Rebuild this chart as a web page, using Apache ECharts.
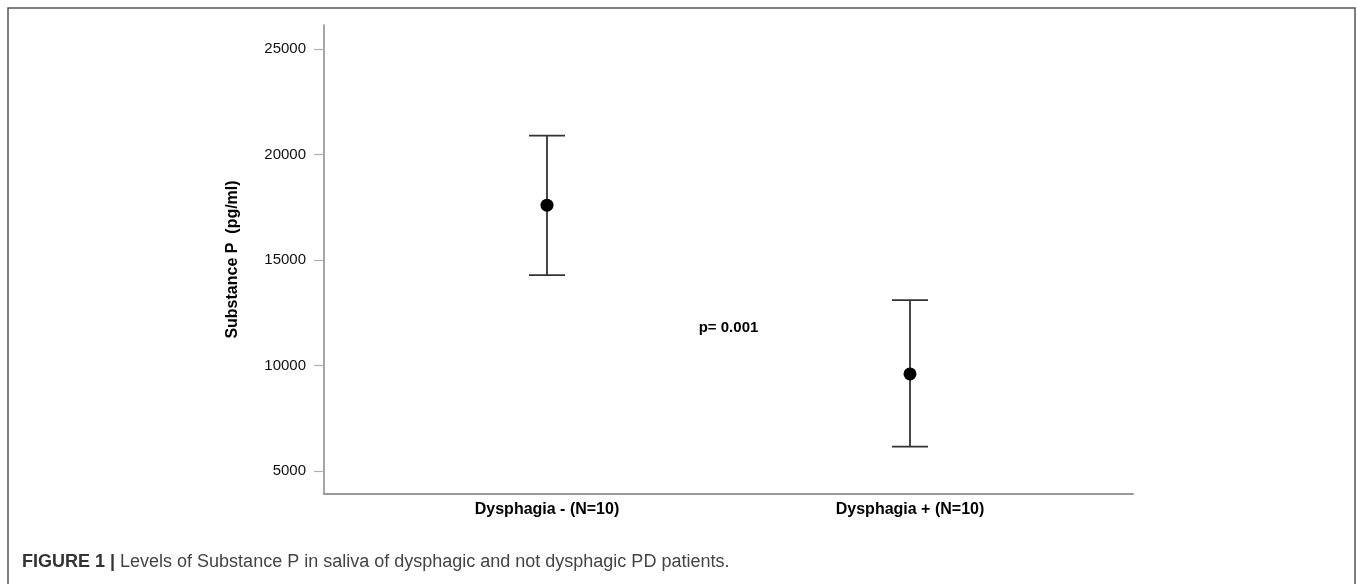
<!DOCTYPE html>
<html>
<head>
<meta charset="utf-8">
<script src="https://cdn.jsdelivr.net/npm/echarts@6/dist/echarts.min.js"></script>
<style>
  html, body { margin: 0; padding: 0; background: #fff; }
  #chart { width: 1357px; height: 584px; }
</style>
</head>
<body>
<div id="chart"></div>
<script>
  // groups on a numeric x position so the spacing matches the figure
  const groups = ['Dysphagia - (N=10)', 'Dysphagia + (N=10)']
  const groupX = [1, 2]
  const means = [17600, 9600]
  const lower = [14280, 6150]
  const upper = [20900, 13100]
  const yTicks = [5000, 10000, 15000, 20000, 25000]
  const pLabel = 'p= 0.001'
  const pPos = [1.5, 11760]

  const font = '"Liberation Sans", Arial, Helvetica, sans-serif'
  const chart = echarts.init(document.getElementById('chart'), null, { renderer: 'canvas' })

  const barData = groupX.map((x, i) => [x, means[i], lower[i], upper[i]])

  function renderBar(params, api) {
    const x = api.value(0)
    const mid = api.coord([x, api.value(1)])
    const lo = api.coord([x, api.value(2)])
    const hi = api.coord([x, api.value(3)])
    const cap = 18
    const stroke = { stroke: '#333', lineWidth: 1.8 }
    return {
      type: 'group',
      children: [
        { type: 'line', shape: { x1: hi[0], y1: hi[1], x2: lo[0], y2: lo[1] }, style: stroke },
        { type: 'line', shape: { x1: hi[0] - cap, y1: hi[1], x2: hi[0] + cap, y2: hi[1] }, style: stroke },
        { type: 'line', shape: { x1: lo[0] - cap, y1: lo[1], x2: lo[0] + cap, y2: lo[1] }, style: stroke },
        { type: 'circle', shape: { cx: mid[0], cy: mid[1], r: 6.5 }, style: { fill: '#000' } },
      ],
    }
  }

  const option = {
    animation: false,
    backgroundColor: '#fff',
    textStyle: { fontFamily: font },
    grid: { left: 324, right: 224, top: 25, bottom: 90, containLabel: false },
    xAxis: {
      type: 'value',
      min: 0.3857,
      max: 2.6143,
      axisLine: { show: true, lineStyle: { color: '#999', width: 2 } },
      axisTick: { show: false },
      splitLine: { show: false },
      axisLabel: {
        customValues: groupX,
        formatter: (v) => groups[groupX.indexOf(Math.round(v))] || '',
        color: '#000',
        fontWeight: 'bold',
        fontSize: 16,
        margin: 8,
        fontFamily: font,
      },
    },
    yAxis: {
      type: 'value',
      min: 3907,
      max: 26140,
      name: 'Substance P  (pg/ml)',
      nameLocation: 'middle',
      nameGap: 83,
      nameRotate: 90,
      nameTextStyle: { color: '#000', fontWeight: 'bold', fontSize: 16, fontFamily: font },
      axisLine: { show: true, lineStyle: { color: '#888', width: 1.5 } },
      axisTick: {
        show: true,
        customValues: yTicks,
        length: 10,
        lineStyle: { color: '#b0b0b0', width: 1.2 },
      },
      splitLine: { show: false },
      axisLabel: {
        customValues: yTicks,
        formatter: (v) => String(v),
        color: '#111',
        fontSize: 15,
        margin: 18,
        fontFamily: font,
      },
    },
    series: [
      {
        type: 'custom',
        renderItem: renderBar,
        data: barData,
        encode: { x: 0, y: [1, 2, 3] },
        z: 3,
      },
      {
        type: 'scatter',
        data: [pPos],
        symbolSize: 0,
        silent: true,
        itemStyle: { opacity: 1 },
        label: {
          show: true,
          position: 'inside',
          formatter: pLabel,
          color: '#000',
          opacity: 1,
          fontWeight: 'bold',
          fontSize: 15,
          fontFamily: font,
        },
      },
    ],
    graphic: [
      {
        type: 'rect',
        shape: { x: 8, y: 8, width: 1347, height: 600 },
        style: { fill: 'none', stroke: '#555', lineWidth: 1.5 },
        silent: true,
      },
      {
        type: 'text',
        left: 22,
        top: 553,
        style: {
          text: '{b|FIGURE 1 |} Levels of Substance P in saliva of dysphagic and not dysphagic PD patients.',
          font: '18px ' + font,
          fill: '#444',
          rich: {
            b: { fontWeight: 'bold', fontSize: 18, fontFamily: font, fill: '#333' },
          },
        },
      },
    ],
  }

  chart.setOption(option)
</script>
</body>
</html>
